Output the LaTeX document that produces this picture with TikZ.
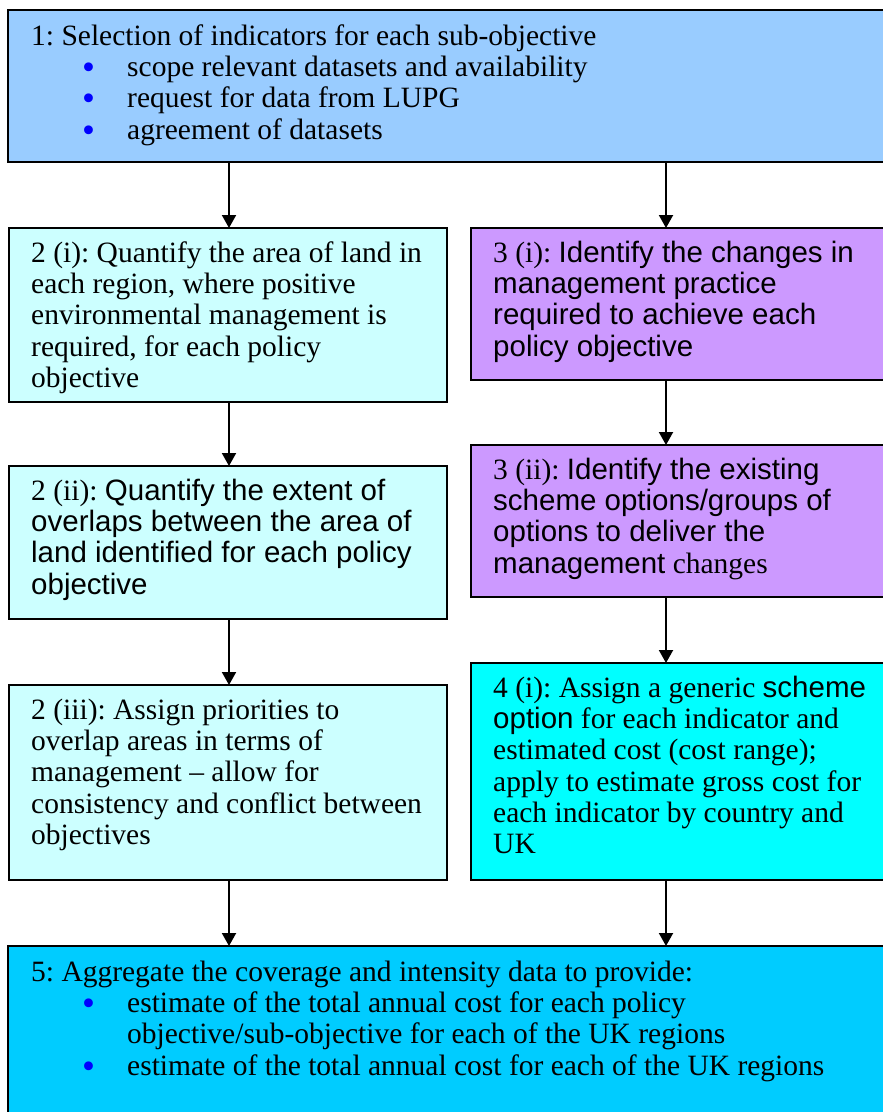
\documentclass[tikz,border=0pt]{standalone}
\usepackage{fontspec}
\setmainfont{Liberation Serif}
\newfontfamily\arialfont{Liberation Sans}
\usetikzlibrary{arrows.meta}
\definecolor{cOne}{HTML}{99CCFF}
\definecolor{cTwo}{HTML}{CCFFFF}
\definecolor{cThree}{HTML}{CC99FF}
\definecolor{cFour}{HTML}{00FFFF}
\definecolor{cFive}{HTML}{00CCFF}
\definecolor{bulblue}{HTML}{0000FF}
\frenchspacing
\newcommand\firststrut{\rule{0pt}{24pt}}
\newcommand\bul{\makebox[96pt][l]{\hspace*{51pt}{\color{bulblue}\smash{\raisebox{-3pt}{\scalebox{1.25}{\textbullet}}}}}}
\newcommand\nobul{\hspace*{96pt}}
\begin{document}
\begin{tikzpicture}[x=1pt,y=-1pt]
\tikzset{
  box/.style={draw=black, line width=1.6pt, anchor=north west, inner sep=0pt, outer sep=0pt},
  txt/.style={anchor=north west, inner sep=0pt, align=left, font=\fontsize{29.5}{31.3}\selectfont},
  arr/.style={line width=2pt, -{Triangle[width=14pt,length=13pt]}},
}
\clip (0,0) rectangle (883,1112);
\fill[white] (0,0) rectangle (883,1112);
% boxes
\node[box, fill=cOne,   minimum width=890pt, minimum height=152pt] (b1)    at (8,10)   {};
\node[box, fill=cTwo,   minimum width=438pt, minimum height=174pt] (b2i)   at (9,228)  {};
\node[box, fill=cThree, minimum width=430pt, minimum height=152pt] (b3i)   at (471,228) {};
\node[box, fill=cTwo,   minimum width=438pt, minimum height=153pt] (b2ii)  at (9,466)  {};
\node[box, fill=cThree, minimum width=430pt, minimum height=152pt] (b3ii)  at (471,445) {};
\node[box, fill=cTwo,   minimum width=438pt, minimum height=195pt] (b2iii) at (9,685)  {};
\node[box, fill=cFour,  minimum width=430pt, minimum height=217pt] (b4i)   at (471,663) {};
\node[box, fill=cFive,  minimum width=890pt, minimum height=180pt] (b5)    at (8,946)  {};
% texts
\node[txt] (t1) at (31,21) {\firststrut 1: Selection of indicators for each sub-objective\\
\bul scope relevant datasets and availability\\
\bul request for data from LUPG\\
\bul agreement of datasets};
\node[txt] (t2i) at (31,238) {\firststrut 2 (i): Quantify the area of land in\\
each region, where positive\\
environmental management is\\
required, for each policy\\
objective};
\node[txt] (t3i) at (493,238) {\firststrut 3 (i): {\arialfont Identify the changes in}\\
{\arialfont management practice}\\
{\arialfont required to achieve each}\\
{\arialfont policy objective}};
\node[txt] (t2ii) at (31,476) {\firststrut 2 (ii): {\arialfont Quantify the extent of}\\
{\arialfont overlaps between the area of}\\
{\arialfont land identified for each policy}\\
{\arialfont objective}};
\node[txt] (t3ii) at (493,455) {\firststrut 3 (ii): {\arialfont Identify the existing}\\
{\arialfont scheme options/groups of}\\
{\arialfont options to deliver the}\\
{\arialfont management} changes};
\node[txt] (t2iii) at (31,695) {\firststrut 2 (iii): Assign priorities to\\
overlap areas in terms of\\
management -- allow for\\
consistency and conflict between\\
objectives};
\node[txt] (t4i) at (493,673) {\firststrut 4 (i): Assign a generic {\arialfont scheme}\\
{\arialfont option} for each indicator and\\
estimated cost (cost range);\\
apply to estimate gross cost for\\
each indicator by country and\\
UK};
\node[txt] (t5) at (31,957) {\firststrut 5: Aggregate the coverage and intensity data to provide:\\
\bul estimate of the total annual cost for each policy\\
\nobul objective/sub-objective for each of the UK regions\\
\bul estimate of the total annual cost for each of the UK regions};
% connectors
\coordinate (cl) at (229,0);
\coordinate (cr) at (666,0);
\draw[arr] (b1.south -| cl) -- (b2i.north -| cl);
\draw[arr] (b1.south -| cr) -- (b3i.north -| cr);
\draw[arr] (b2i.south -| cl) -- (b2ii.north -| cl);
\draw[arr] (b3i.south -| cr) -- (b3ii.north -| cr);
\draw[arr] (b2ii.south -| cl) -- (b2iii.north -| cl);
\draw[arr] (b3ii.south -| cr) -- (b4i.north -| cr);
\draw[arr] (b2iii.south -| cl) -- (b5.north -| cl);
\draw[arr] (b4i.south -| cr) -- (b5.north -| cr);
\end{tikzpicture}
\end{document}
